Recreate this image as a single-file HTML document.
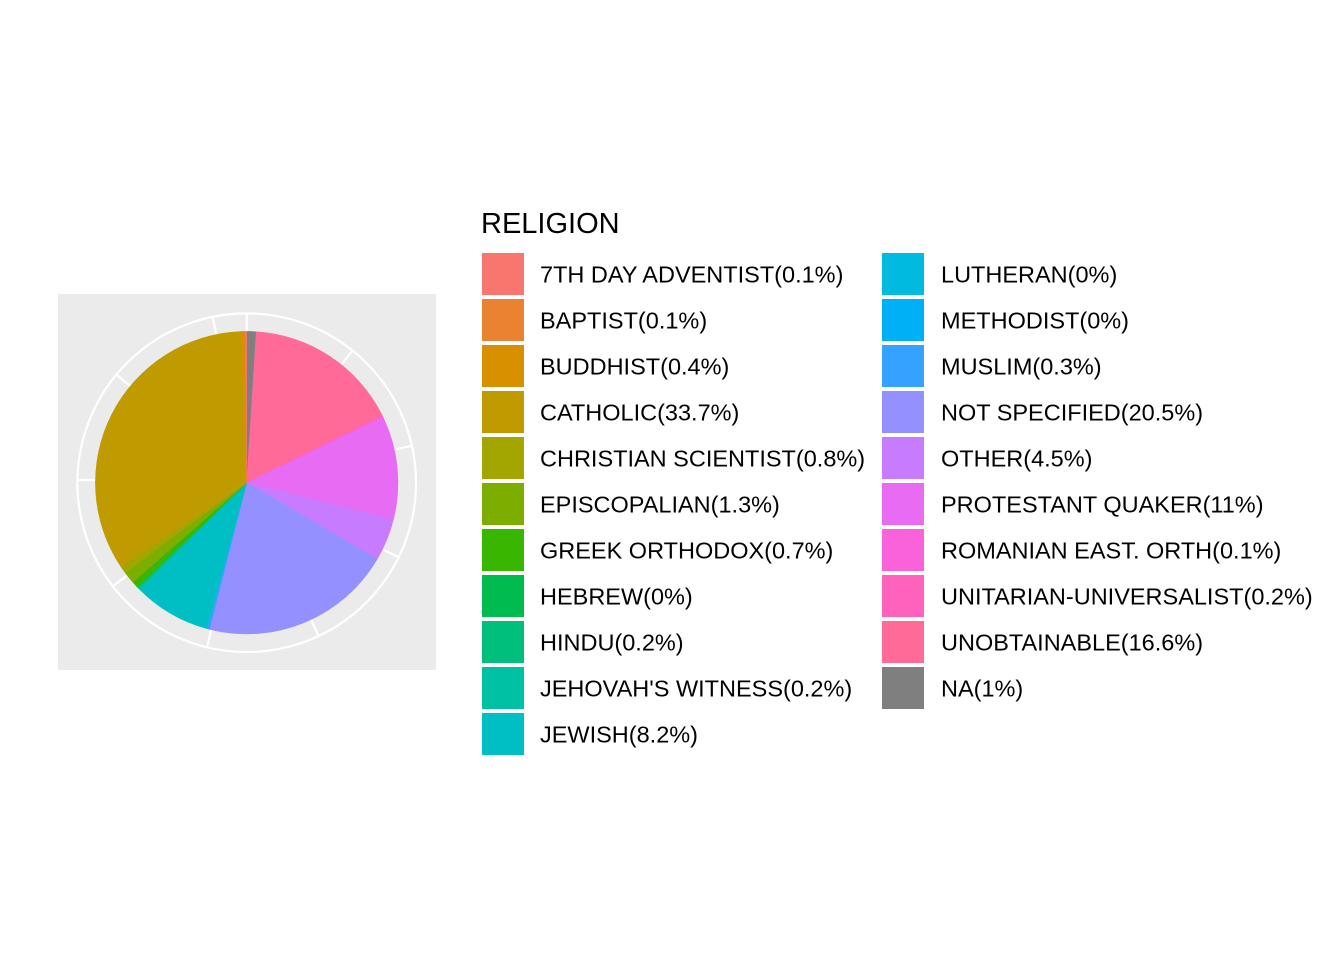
<!DOCTYPE html>
<html><head><meta charset="utf-8"><style>
body{margin:0;background:#fff;width:1344px;height:960px;overflow:hidden}
svg text{font-family:"Liberation Sans",Arial,sans-serif}
</style></head><body>
<svg id="chart" width="1344" height="960">
<rect x="0" y="0" width="1344" height="960" fill="#fff"/>
<rect x="58" y="294" width="378" height="376" fill="#EBEBEB"/>
<g id="grid"></g>
<g id="pie"></g>
<text x="481" y="233" font-size="29" fill="#000">RELIGION</text>
<g id="legend"></g>
</svg>
<script>
const categories = ["7TH DAY ADVENTIST","BAPTIST","BUDDHIST","CATHOLIC","CHRISTIAN SCIENTIST","EPISCOPALIAN","GREEK ORTHODOX","HEBREW","HINDU","JEHOVAH'S WITNESS","JEWISH","LUTHERAN","METHODIST","MUSLIM","NOT SPECIFIED","OTHER","PROTESTANT QUAKER","ROMANIAN EAST. ORTH","UNITARIAN-UNIVERSALIST","UNOBTAINABLE","NA"];
const percents = [0.1,0.1,0.4,33.7,0.8,1.3,0.7,0,0.2,0.2,8.2,0,0,0.3,20.5,4.5,11,0.1,0.2,16.6,1];
const labels = ["0.1%","0.1%","0.4%","33.7%","0.8%","1.3%","0.7%","0%","0.2%","0.2%","8.2%","0%","0%","0.3%","20.5%","4.5%","11%","0.1%","0.2%","16.6%","1%"];
const tickBreaks = [0,200,400,600,800,1000,1200,1400,1600,1800];
const totalCount = 1860;

const NS="http://www.w3.org/2000/svg";
const cx=246.7, cy=482.7, rPie=151.3, rOuter=169.3;
function hcl(h,c,l){
  const Xn=95.047,Yn=100,Zn=108.883;
  const d=Xn+15*Yn+3*Zn, un=4*Xn/d, vn=9*Yn/d;
  const hr=h*Math.PI/180, U=c*Math.cos(hr), V=c*Math.sin(hr);
  const Y = l>8 ? Yn*Math.pow((l+16)/116,3) : Yn*l/903.3;
  const up=U/(13*l)+un, vp=V/(13*l)+vn;
  const X=Y*9*up/(4*vp), Z=Y*(12-3*up-20*vp)/(4*vp);
  const x=X/100,y=Y/100,z=Z/100;
  let r=3.2404542*x-1.5371385*y-0.4985314*z;
  let g=-0.9692660*x+1.8760108*y+0.0415560*z;
  let b=0.0556434*x-0.2040259*y+1.0572252*z;
  const gm=v=>{v=v<=0.0031308?12.92*v:1.055*Math.pow(v,1/2.4)-0.055;return Math.round(Math.max(0,Math.min(1,v))*255);};
  return `rgb(${gm(r)},${gm(g)},${gm(b)})`;
}
const nLev=categories.length-1;
function colorOf(i){ if(categories[i]==="NA") return "#7F7F7F"; return hcl(15+i*360/nLev,100,65); }
function angleOfFrac(f){ return f*2*Math.PI; }
function pt(a,r){ return [cx+r*Math.sin(a), cy-r*Math.cos(a)]; }

const grid=document.getElementById('grid');
tickBreaks.forEach((b,i)=>{
  const a=angleOfFrac(b/totalCount); const p=pt(a,rOuter);
  const l=document.createElementNS(NS,'line');
  l.setAttribute('x1',cx);l.setAttribute('y1',cy);l.setAttribute('x2',p[0]);l.setAttribute('y2',p[1]);
  l.setAttribute('stroke','#fff');l.setAttribute('stroke-width','2.2');
  
  
  grid.appendChild(l);
});
const circ=document.createElementNS(NS,'circle');
circ.setAttribute('cx',cx);circ.setAttribute('cy',cy);circ.setAttribute('r',rOuter);
circ.setAttribute('fill','none');circ.setAttribute('stroke','#fff');circ.setAttribute('stroke-width','2.2');


grid.appendChild(circ);

const pie=document.getElementById('pie');
const sum=percents.reduce((a,b)=>a+b,0);
let acc=0;
for(let i=categories.length-1;i>=0;i--){
  const v=percents[i]; if(v<=0) continue;
  const a0=angleOfFrac(acc/sum), a1=angleOfFrac((acc+v)/sum); acc+=v;
  const p0=pt(a0,rPie), p1=pt(a1,rPie);
  const large=(a1-a0)>Math.PI?1:0;
  const path=document.createElementNS(NS,'path');
  path.setAttribute('d',`M${cx},${cy}L${p0[0]},${p0[1]}A${rPie},${rPie} 0 ${large} 1 ${p1[0]},${p1[1]}Z`);
  path.setAttribute('fill',colorOf(i));
  path.setAttribute('stroke',colorOf(i));path.setAttribute('stroke-width','0.5');
  
  
  pie.appendChild(path);
}

const leg=document.getElementById('legend');
categories.forEach((c,i)=>{
  const col=i<11?0:1, row=i<11?i:i-11;
  const kx=col?882:482, ky=253+row*46;
  const r=document.createElementNS(NS,'rect');
  r.setAttribute('x',kx);r.setAttribute('y',ky);r.setAttribute('width',42);r.setAttribute('height',42);
  r.setAttribute('fill',colorOf(i));
  
  
  leg.appendChild(r);
  const t=document.createElementNS(NS,'text');
  t.setAttribute('x',kx+(col?59:58));t.setAttribute('y',ky+29.3);t.setAttribute('font-size','23.5');
  t.textContent=c+'('+labels[i]+')';
  
  
  leg.appendChild(t);
});
</script>
</body></html>
